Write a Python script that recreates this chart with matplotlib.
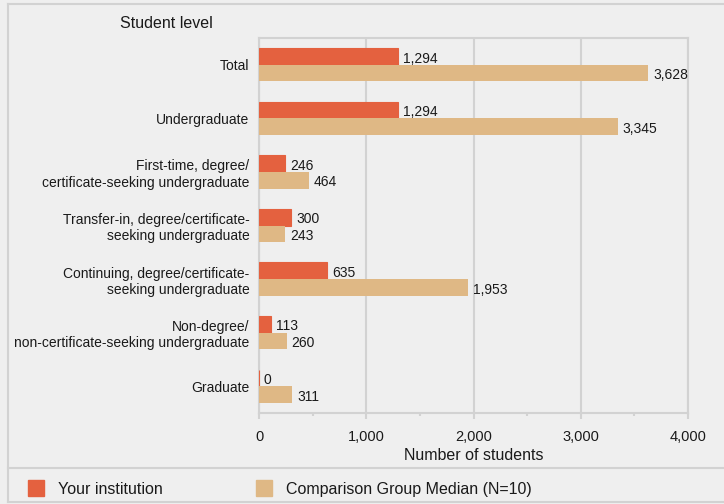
import matplotlib.pyplot as plt
from matplotlib.patches import Rectangle
from matplotlib.lines import Line2D

plt.rcParams['font.family'] = ['Liberation Sans', 'DejaVu Sans']

categories = ['Total', 'Undergraduate',
              'First-time, degree/\ncertificate-seeking undergraduate',
              'Transfer-in, degree/certificate-\nseeking undergraduate',
              'Continuing, degree/certificate-\nseeking undergraduate',
              'Non-degree/\nnon-certificate-seeking undergraduate',
              'Graduate']
your_inst = [1294, 1294, 246, 300, 635, 113, 0]
comparison = [3628, 3345, 464, 243, 1953, 260, 311]
series_names = ['Your institution', 'Comparison Group Median (N=10)']

RED = '#e4613f'
TAN = '#dfb885'
BG = '#efefef'
LINE = '#d2d2d2'
TXT = '#1a1a1a'

fig = plt.figure(figsize=(7.24, 5.04), dpi=100, facecolor=BG)
ax = fig.add_axes([259 / 724, 1 - 413 / 504, (688 - 259) / 724, (413 - 38) / 504])
ax.set_facecolor(BG)

h = 0.31
ys = list(range(len(categories)))
ax.barh([y - h / 2 for y in ys], your_inst, height=h, color=RED, edgecolor=RED, linewidth=0.8, zorder=3)
ax.barh([y + h / 2 for y in ys], comparison, height=h, color=TAN, zorder=3)

for y, v in zip(ys, your_inst):
    ax.text(v + 45, y - h / 2 + 0.04, f'{v:,}', va='center', ha='left', fontsize=10, color=TXT)
for y, v in zip(ys, comparison):
    ax.text(v + 45, y + h / 2 + 0.04, f'{v:,}', va='center', ha='left', fontsize=10, color=TXT)

ax.set_xlim(0, 4000)
ax.set_ylim(len(categories) - 0.5, -0.5)
ax.set_yticks(ys)
ax.set_yticklabels(categories, fontsize=10, color=TXT, linespacing=1.2)
ax.set_xticks([0, 1000, 2000, 3000, 4000])
ax.set_xticklabels(['0', '1,000', '2,000', '3,000', '4,000'], fontsize=10.5, color=TXT)
ax.set_xticks([500, 1500, 2500, 3500], minor=True)
ax.tick_params(axis='y', length=0, pad=7)
ax.tick_params(axis='x', which='major', length=4, color=LINE, width=1.5, pad=8)
ax.tick_params(axis='x', which='minor', length=2, color=LINE, width=1.5)
ax.grid(axis='x', color=LINE, linewidth=1.5, zorder=0)
for s in ax.spines.values():
    s.set_color(LINE)
    s.set_linewidth(1.5)
ax.set_xlabel('Number of students', fontsize=11.5, color=TXT, labelpad=3)

fig.text(166 / 724, 1 - 23 / 504, 'Student level', ha='center', va='center', fontsize=11.5, color=TXT)

# panel border and legend separator
fig.add_artist(Line2D([8 / 724, 1], [1 - 3.5 / 504] * 2, color=LINE, lw=1.5))
fig.add_artist(Line2D([8 / 724] * 2, [1 - 3.5 / 504, 1 - 502 / 504], color=LINE, lw=1.5))
fig.add_artist(Line2D([8 / 724, 1], [1 - 468 / 504] * 2, color=LINE, lw=1.5))
fig.add_artist(Line2D([8 / 724, 1], [1 - 502 / 504] * 2, color=LINE, lw=1.5))

# legend
for x0, col, name in zip([28, 256], [RED, TAN], series_names):
    fig.add_artist(Rectangle((x0 / 724, 1 - 496 / 504), 16 / 724, 16 / 504,
                             transform=fig.transFigure, color=col))
    fig.text((x0 + 30) / 724, 1 - 489.5 / 504, name, ha='left', va='center', fontsize=11.5, color=TXT)

fig.savefig('out.png', dpi=100, facecolor=BG)
